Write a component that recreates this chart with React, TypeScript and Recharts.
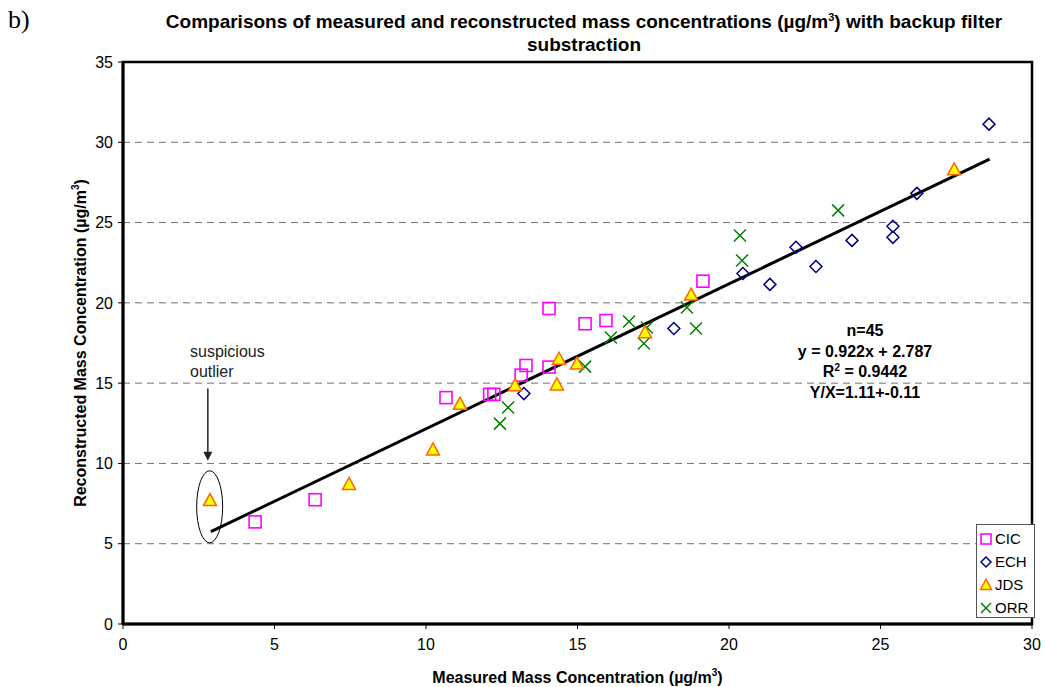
import React from "react"
import {
  ScatterChart,
  Scatter,
  XAxis,
  YAxis,
  CartesianGrid,
  ReferenceArea,
  ReferenceDot,
  ReferenceLine,
  Legend,
} from "recharts"

const FONT = "'Liberation Sans', Arial, sans-serif"

// [measured, reconstructed]
const CIC: [number, number][] = [
  [4.36, 6.36], [6.34, 7.74], [10.66, 14.1], [12.1, 14.3], [12.24, 14.3],
  [13.14, 15.5], [13.3, 16.1], [14.06, 16.0], [14.06, 19.65], [15.25, 18.7],
  [15.94, 18.9], [19.14, 21.35],
]
const ECH: [number, number][] = [
  [13.23, 14.35], [18.18, 18.4], [20.46, 21.83], [21.35, 21.15], [22.21, 23.46],
  [22.87, 22.27], [24.06, 23.89], [25.41, 24.77], [25.41, 24.08], [26.2, 26.82],
  [28.58, 31.13],
]
const JDS: [number, number][] = [
  [2.87, 7.7], [7.46, 8.7], [10.23, 10.85], [11.12, 13.7], [12.94, 14.85],
  [14.32, 14.9], [14.39, 16.5], [14.98, 16.2], [17.23, 18.15], [18.75, 20.5],
  [27.43, 28.3],
]
const ORR: [number, number][] = [
  [12.44, 12.48], [12.71, 13.48], [15.25, 16.03], [16.1, 17.84], [16.7, 18.84],
  [17.29, 18.46], [17.19, 17.47], [18.61, 19.71], [18.91, 18.4], [20.36, 24.2],
  [20.43, 22.64], [23.6, 25.76],
]
const FIT: [number, number][] = [[2.9, 5.75], [28.6, 28.95]]

const X_TICKS = [0, 5, 10, 15, 20, 25, 30]
const Y_TICKS = [0, 5, 10, 15, 20, 25, 30, 35]
const SERIES = ["CIC", "ECH", "JDS", "ORR"]

const toPts = (a: [number, number][]) => a.map(([x, y]) => ({ x, y }))

const Square = ({ cx, cy, s = 6 }: any) => (
  <rect x={cx - s} y={cy - s} width={s * 2} height={s * 2} fill="none" stroke="#FF00FF" strokeWidth={1.6} />
)
const Diamond = ({ cx, cy, s = 6 }: any) => (
  <polygon
    points={`${cx},${cy - s} ${cx + s},${cy} ${cx},${cy + s} ${cx - s},${cy}`}
    fill="none"
    stroke="#000080"
    strokeWidth={1.5}
  />
)
const Triangle = ({ cx, cy, s = 6.5 }: any) => (
  <polygon
    points={`${cx},${cy - s * 1.05} ${cx + s},${cy + s * 0.8} ${cx - s},${cy + s * 0.8}`}
    fill="#FFFF00"
    stroke="#FF6600"
    strokeWidth={1.5}
  />
)
const Cross = ({ cx, cy, s = 6 }: any) => (
  <g stroke="#008000" strokeWidth={1.5}>
    <line x1={cx - s} y1={cy - s} x2={cx + s} y2={cy + s} />
    <line x1={cx - s} y1={cy + s} x2={cx + s} y2={cy - s} />
  </g>
)
const ICONS: Record<string, any> = { CIC: Square, ECH: Diamond, JDS: Triangle, ORR: Cross }

function LegendBox() {
  return (
    <div
      style={{
        border: "1px solid #555",
        background: "#fff",
        width: 59,
        height: 94,
        boxSizing: "border-box",
        paddingTop: 2,
        fontFamily: FONT,
        fontSize: 15,
      }}
    >
      {SERIES.map((name) => {
        const Icon = ICONS[name]
        return (
          <div key={name} style={{ display: "flex", alignItems: "center", height: 23 }}>
            <svg width={17} height={16} style={{ marginLeft: 1 }}>
              <Icon cx={8} cy={8} s={name === "JDS" ? 5.5 : 5} />
            </svg>
            <span>{name}</span>
          </div>
        )
      })}
    </div>
  )
}

const Ellipse = ({ cx, cy }: any) => (
  <ellipse cx={cx} cy={cy} rx={13} ry={36} fill="none" stroke="#000" strokeWidth={1} />
)
const ArrowHead = ({ cx, cy }: any) => (
  <polygon points={`${cx},${cy} ${cx - 4.5},${cy - 9} ${cx + 4.5},${cy - 9}`} fill="#222" />
)

export default function App() {
  return (
    <div style={{ position: "absolute", left: 0, top: 0, width: 1045, height: 687, background: "#fff" }}>
      <div style={{ position: "absolute", left: 8, top: 5, fontFamily: "'Liberation Serif', 'Times New Roman', serif", fontSize: 26 }}>
        b)
      </div>
      <div
        style={{
          position: "absolute",
          left: 120,
          width: 928,
          top: 10,
          textAlign: "center",
          fontFamily: FONT,
          fontWeight: "bold",
          fontSize: 19,
          lineHeight: "23px",
        }}
      >
        Comparisons of measured and reconstructed mass concentrations (µg/m
        <span style={{ fontSize: 11, verticalAlign: "super", lineHeight: 0 }}>3</span>) with backup filter
        <br />
        substraction
      </div>

      <ScatterChart width={1045} height={687} margin={{ top: 62, right: 13, left: 0, bottom: 0 }}>
        <CartesianGrid horizontal vertical={false} stroke="#707070" strokeDasharray="7 5" />
        <XAxis
          type="number"
          dataKey="x"
          domain={[0, 30]}
          ticks={X_TICKS}
          height={63}
          tickSize={5}
          tickMargin={10}
          axisLine={{ stroke: "#000", strokeWidth: 3 }}
          tickLine={{ stroke: "#000" }}
          tick={{ fill: "#000", fontSize: 16, fontFamily: FONT }}
          label={{
            content: ({ viewBox }: any) => (
              <text
                x={viewBox.x + viewBox.width / 2}
                y={683}
                textAnchor="middle"
                fontFamily={FONT}
                fontWeight="bold"
                fontSize={16}
              >
                Measured Mass Concentration (µg/m
                <tspan dy={-7} fontSize={10}>3</tspan>
                <tspan dy={7}>)</tspan>
              </text>
            ),
          }}
        />
        <YAxis
          type="number"
          dataKey="y"
          domain={[0, 35]}
          ticks={Y_TICKS}
          width={123}
          tickSize={5}
          tickMargin={5}
          axisLine={{ stroke: "#000", strokeWidth: 3 }}
          tickLine={{ stroke: "#000" }}
          tick={{ fill: "#000", fontSize: 16, fontFamily: FONT }}
          label={{
            content: ({ viewBox }: any) => {
              const cy = viewBox.y + viewBox.height / 2
              return (
                <text
                  x={86}
                  y={cy}
                  transform={`rotate(-90 86 ${cy})`}
                  textAnchor="middle"
                  fontFamily={FONT}
                  fontWeight="bold"
                  fontSize={16}
                >
                  Reconstructed Mass Concentration (µg/m
                  <tspan dy={-7} fontSize={10}>3</tspan>
                  <tspan dy={7}>)</tspan>
                </text>
              )
            },
          }}
        />
        <ReferenceArea x1={0} x2={30} y1={0} y2={35} fill="none" stroke="#000" strokeWidth={2.5} />

        <Scatter
          name="fit"
          data={toPts(FIT)}
          line={{ stroke: "#000", strokeWidth: 3 }}
          shape={() => <g />}
          legendType="none"
          isAnimationActive={false}
        />
        <Scatter name="CIC" data={toPts(CIC)} shape={(p: any) => <Square cx={p.cx} cy={p.cy} />} isAnimationActive={false} />
        <Scatter name="ECH" data={toPts(ECH)} shape={(p: any) => <Diamond cx={p.cx} cy={p.cy} />} isAnimationActive={false} />
        <Scatter name="ORR" data={toPts(ORR)} shape={(p: any) => <Cross cx={p.cx} cy={p.cy} />} isAnimationActive={false} />
        <Scatter name="JDS" data={toPts(JDS)} shape={(p: any) => <Triangle cx={p.cx} cy={p.cy} />} isAnimationActive={false} />

        <ReferenceDot x={2.86} y={7.3} shape={(p: any) => <Ellipse cx={p.cx} cy={p.cy} />} />
        <ReferenceLine segment={[{ x: 2.8, y: 14.66 }, { x: 2.8, y: 10.6 }]} stroke="#222" strokeWidth={1.5} />
        <ReferenceDot x={2.8} y={10.17} shape={(p: any) => <ArrowHead cx={p.cx} cy={p.cy} />} />

        <Legend
          layout="horizontal"
          verticalAlign="middle"
          align="center"
          content={() => <LegendBox />}
          wrapperStyle={{ left: 976, top: 524, width: 59, height: 94 }}
        />
      </ScatterChart>

      <div
        style={{
          position: "absolute",
          left: 190,
          top: 342,
          fontFamily: FONT,
          fontSize: 16,
          lineHeight: "20px",
          color: "#222",
        }}
      >
        suspicious
        <br />
        outlier
      </div>

      <div
        style={{
          position: "absolute",
          left: 765,
          width: 200,
          top: 321,
          textAlign: "center",
          fontFamily: FONT,
          fontWeight: "bold",
          fontSize: 16,
          lineHeight: "20.7px",
        }}
      >
        n=45
        <br />
        y = 0.922x + 2.787
        <br />
        R<span style={{ fontSize: 10, verticalAlign: "super", lineHeight: 0 }}>2</span> = 0.9442
        <br />
        Y/X=1.11+-0.11
      </div>
    </div>
  )
}
